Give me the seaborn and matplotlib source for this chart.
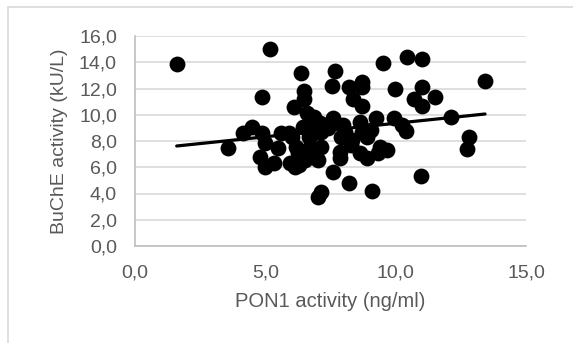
import numpy as np
import pandas as pd
import seaborn as sns
import matplotlib.pyplot as plt
from matplotlib.patches import Rectangle
from matplotlib.ticker import FuncFormatter

# PON1 activity (ng/ml) vs BuChE activity (kU/L)
pon1 = [1.60, 5.19, 3.57, 4.14, 4.49, 4.88, 4.88, 4.98, 4.79, 4.98,
        5.33, 5.50, 5.61, 5.89, 5.96, 6.10, 6.14, 6.38, 6.49, 6.49,
        6.59, 6.66, 6.45, 6.17, 6.45, 6.52, 6.31, 6.73, 7.01, 7.01,
        7.15, 7.12, 7.08, 6.87, 7.57, 7.68, 7.60, 7.60, 7.85, 7.85,
        7.99, 7.92, 8.20, 8.38, 8.20, 8.34, 8.69, 8.69, 8.69, 8.62,
        8.69, 8.90, 8.62, 8.90, 9.11, 9.25, 9.39, 9.32, 9.67, 9.51,
        9.98, 9.95, 10.42, 11.00, 11.00, 10.72, 11.00, 11.50, 10.40, 10.23,
        10.96, 12.13, 12.73, 12.83, 13.43, 6.66, 6.87, 7.15, 6.24, 6.87,
        6.03, 8.27, 9.04, 7.40, 8.06]
buche = [13.87, 14.98, 7.49, 8.63, 9.04, 11.38, 8.58, 7.87, 6.81, 6.04,
         6.30, 7.44, 8.63, 8.58, 6.30, 10.57, 6.04, 13.16, 11.83, 11.17,
         10.11, 9.35, 9.09, 7.57, 7.19, 6.55, 6.17, 7.57, 6.55, 3.71,
         4.14, 7.57, 9.35, 8.58, 12.19, 13.36, 9.73, 5.66, 7.19, 6.68,
         9.22, 8.33, 12.09, 11.17, 4.77, 8.08, 12.52, 12.09, 10.67, 9.47,
         8.71, 8.33, 7.06, 6.68, 4.22, 9.73, 7.57, 7.06, 7.31, 13.92,
         11.94, 9.73, 14.37, 14.25, 12.09, 11.17, 10.67, 11.33, 8.79, 9.22,
         5.36, 9.80, 7.37, 8.28, 12.55, 8.33, 9.85, 8.71, 7.06, 6.81,
         8.33, 7.70, 8.84, 8.97, 8.71]

# linear trendline as shown in the chart
trend_slope = 0.206
trend_intercept = 7.29

x_ticks = [0, 5, 10, 15]
y_ticks = [0, 2, 4, 6, 8, 10, 12, 14, 16]

df = pd.DataFrame({"pon1": pon1, "buche": buche})
trend_x = np.array([df["pon1"].min(), df["pon1"].max()])
trend = pd.DataFrame({"x": trend_x, "y": trend_intercept + trend_slope * trend_x})

sns.set_style("white")
plt.rcParams['font.family'] = ['Liberation Sans', 'DejaVu Sans']

fig = plt.figure(figsize=(5.73, 3.43), dpi=100)
ax = fig.add_axes([135 / 573, 1 - 246 / 343, (526 - 135) / 573, 210 / 343])

# chart border (only top and left visible in the original crop)
fig.patches.append(Rectangle((8 / 573, -0.2), 1.2, 1.2 - 7 / 343,
                             transform=fig.transFigure, fill=False,
                             edgecolor='#d9d9d9', linewidth=1.2))

sns.scatterplot(data=df, x="pon1", y="buche", ax=ax, s=130,
                color='black', linewidth=0, zorder=3)
sns.lineplot(data=trend, x="x", y="y", ax=ax, color='black',
             linewidth=2.3, zorder=4)

ax.set_xlim(0, 15)
ax.set_ylim(0, 16)
ax.set_xticks(x_ticks)
ax.set_yticks(y_ticks)
fmt = FuncFormatter(lambda v, p: f"{v:.1f}".replace('.', ','))
ax.xaxis.set_major_formatter(fmt)
ax.yaxis.set_major_formatter(fmt)
ax.yaxis.grid(True, color='#d9d9d9', linewidth=1.2)
ax.set_axisbelow(True)
for side in ['top', 'right']:
    ax.spines[side].set_visible(False)
for side in ['left', 'bottom']:
    ax.spines[side].set_color('#bfbfbf')
    ax.spines[side].set_linewidth(1.2)
ax.tick_params(colors='#595959', labelsize=14, length=0)
ax.tick_params(axis='x', pad=13)
ax.tick_params(axis='y', pad=13)
ax.set_xlabel("PON1 activity (ng/ml)", fontsize=14.5, color='#595959', labelpad=8)
ax.set_ylabel("BuChE activity (kU/L)", fontsize=14, color='#595959', labelpad=8)

fig.savefig("out.png", dpi=100)
